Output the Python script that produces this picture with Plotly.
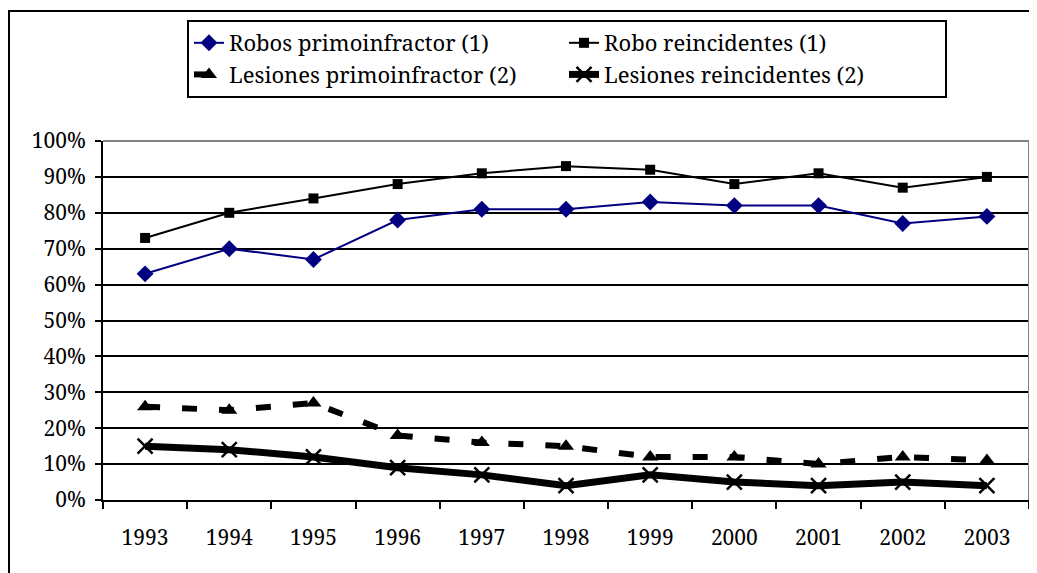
import plotly.graph_objects as go

years = ["1993", "1994", "1995", "1996", "1997", "1998", "1999", "2000", "2001", "2002", "2003"]
robos_primo = [63, 70, 67, 78, 81, 81, 83, 82, 82, 77, 79]
robo_reinc = [73, 80, 84, 88, 91, 93, 92, 88, 91, 87, 90]
lesiones_primo = [26, 25, 27, 18, 16, 15, 12, 12, 10, 12, 11]
lesiones_reinc = [15, 14, 12, 9, 7, 4, 7, 5, 4, 5, 4]
y_ticks = [0, 10, 20, 30, 40, 50, 60, 70, 80, 90, 100]
y_labels = ["0%", "10%", "20%", "30%", "40%", "50%", "60%", "70%", "80%", "90%", "100%"]

FONT = "Noto Serif"
FS = 21
LFS = 22

fig = go.Figure()
fig.add_trace(go.Scatter(x=years, y=robos_primo, name="Robos primoinfractor (1)",
                         mode="lines+markers", line=dict(color="#000080", width=2),
                         marker=dict(symbol="diamond", size=13, color="#000080")))
fig.add_trace(go.Scatter(x=years, y=robo_reinc, name="Robo reincidentes (1)",
                         mode="lines+markers", line=dict(color="black", width=2),
                         marker=dict(symbol="square", size=10, color="black")))
fig.add_trace(go.Scatter(x=years, y=lesiones_primo, name="Lesiones primoinfractor (2)",
                         mode="lines+markers", line=dict(color="black", width=6, dash="15px,22px"),
                         marker=dict(symbol="triangle-up", size=14, color="black")))
fig.add_trace(go.Scatter(x=years, y=lesiones_reinc, name="Lesiones reincidentes (2)",
                         mode="lines+markers", line=dict(color="black", width=7),
                         marker=dict(symbol="x-thin-open", size=15, color="black",
                                     line=dict(color="black", width=2.5))))

fig.update_layout(
    width=1029, height=565,
    margin=dict(l=95, r=8, t=133, b=73),
    paper_bgcolor="white", plot_bgcolor="white",
    font=dict(family=FONT, size=FS, color="black"),
    showlegend=True,
    legend=dict(orientation="h", x=0.0907, y=1.337, xanchor="left", yanchor="top",
                bordercolor="black", borderwidth=2, bgcolor="white",
                font=dict(family=FONT, size=LFS, color="black"),
                entrywidth=0.405, entrywidthmode="fraction",
                traceorder="normal"),
    xaxis=dict(type="category", range=[-0.5, 10.5], showgrid=False,
               showline=True, linecolor="black", linewidth=2,
               ticks="outside", tickson="boundaries", ticklen=7, tickwidth=2, tickcolor="black",
               ticklabelstandoff=18, tickfont=dict(family=FONT, size=FS, color="black")),
    yaxis=dict(range=[0, 100], tickmode="array", tickvals=y_ticks, ticktext=y_labels,
               showgrid=True, gridcolor="black", gridwidth=2,
               showline=True, linecolor="black", linewidth=2, zeroline=False,
               ticks="outside", ticklen=6, tickwidth=2, tickcolor="black",
               ticklabelstandoff=5,
               tickfont=dict(family=FONT, size=FS, color="black")),
    shapes=[
        dict(type="line", xref="paper", yref="paper", x0=0, x1=1, y0=1, y1=1,
             line=dict(color="#808080", width=2), layer="above"),
        dict(type="line", xref="paper", yref="paper", x0=1, x1=1, y0=0, y1=1,
             line=dict(color="#808080", width=2), layer="above"),
        dict(type="rect", xref="paper", yref="paper", x0=-0.1015, x1=1.2, y0=-0.5, y1=1.362,
             line=dict(color="black", width=2), layer="below"),
    ],
)

fig.write_html("out.html")
